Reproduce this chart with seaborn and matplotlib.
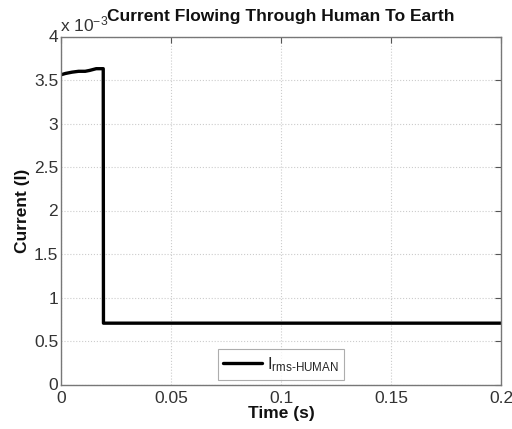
import matplotlib
matplotlib.use("Agg")
import matplotlib.pyplot as plt
import seaborn as sns
import pandas as pd

# Data (current in units of 1e-3 A)
time_s = [0.0, 0.002, 0.005, 0.008, 0.011, 0.013, 0.016, 0.0192, 0.0193, 0.2]
current_e3 = [3.56, 3.575, 3.59, 3.60, 3.60, 3.61, 3.63, 3.63, 0.705, 0.705]
series_label = r"I$_{\mathregular{rms\text{-}HUMAN}}$"

x_ticks = [0, 0.05, 0.1, 0.15, 0.2]
x_ticklabels = ["0", "0.05", "0.1", "0.15", "0.2"]
y_ticks = [0, 0.5, 1, 1.5, 2, 2.5, 3, 3.5, 4]
y_ticklabels = ["0", "0.5", "1", "1.5", "2", "2.5", "3", "3.5", "4"]

sns.set_style("white")
plt.rcParams['font.family'] = ['Liberation Sans', 'DejaVu Sans']
plt.rcParams['mathtext.fontset'] = 'custom'
plt.rcParams['mathtext.rm'] = 'Liberation Sans'
plt.rcParams['mathtext.it'] = 'Liberation Sans'

df = pd.DataFrame({"t": time_s, "I": current_e3, "series": series_label})

fig = plt.figure(figsize=(5.12, 4.29), dpi=100)
ax = fig.add_axes([61/512, 1 - 384.5/429, 440/512, 348/429])

sns.lineplot(data=df, x="t", y="I", hue="series", palette=["black"],
             linewidth=2.4, ax=ax, estimator=None, sort=False)

ax.set_xlim(0, 0.2)
ax.set_ylim(0, 4)
ax.set_xticks(x_ticks)
ax.set_xticklabels(x_ticklabels)
ax.set_yticks(y_ticks)
ax.set_yticklabels(y_ticklabels)
ax.tick_params(direction="in", length=4, color="#555555", labelsize=12.5,
               top=True, right=True, labelcolor="#333333", pad=2)
ax.tick_params(axis="x", pad=5)
ax.grid(True, linestyle=":", color="#cccccc", linewidth=0.8)
for s in ax.spines.values():
    s.set_color("#777777")
    s.set_linewidth(1.0)

ax.set_xlabel("Time (s)", fontsize=12.5, fontweight="bold", labelpad=0,
              color="#111111")
ax.set_ylabel("Current (I)", fontsize=12.5, fontweight="bold", labelpad=3,
              color="#111111")
ax.set_title("Current Flowing Through Human To Earth", fontsize=12.5,
             fontweight="bold", pad=11, color="#111111")
ax.text(-0.003, 1.005, r"x 10$^{\mathregular{-3}}$", transform=ax.transAxes,
        fontsize=12.5, ha="left", va="bottom", color="#333333")

leg = ax.legend(loc="lower center", bbox_to_anchor=(0.5, 0.0), fontsize=12,
                frameon=True, fancybox=False, edgecolor="#999999",
                handlelength=2.3, handletextpad=0.3, borderpad=0.35,
                borderaxespad=0.3)
leg.get_frame().set_linewidth(0.8)

fig.savefig("out.png", dpi=100)
